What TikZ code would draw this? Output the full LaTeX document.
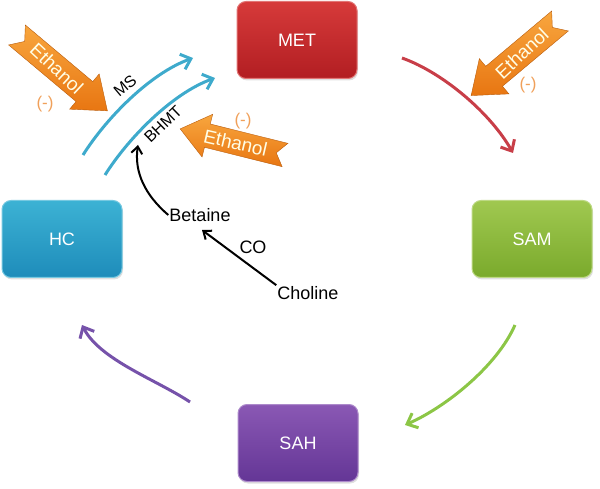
\documentclass[tikz,border=0pt]{standalone}
\usepackage{fontspec}
\setmainfont{Liberation Sans}
\usetikzlibrary{arrows.meta,shadows}
\definecolor{metTop}{RGB}{214,58,58}
\definecolor{metBot}{RGB}{178,30,34}
\definecolor{samTop}{RGB}{160,200,80}
\definecolor{samBot}{RGB}{122,170,44}
\definecolor{hcTop}{RGB}{60,178,212}
\definecolor{hcBot}{RGB}{30,140,186}
\definecolor{sahTop}{RGB}{138,88,180}
\definecolor{sahBot}{RGB}{100,54,150}
\definecolor{redArc}{RGB}{200,62,72}
\definecolor{greenArc}{RGB}{140,198,70}
\definecolor{purpleArc}{RGB}{118,82,170}
\definecolor{blueArc}{RGB}{62,170,204}
\definecolor{ethTop}{RGB}{248,166,62}
\definecolor{ethBot}{RGB}{232,118,18}
\definecolor{minusCol}{RGB}{240,160,90}
\begin{document}
\begin{tikzpicture}[x=1pt,y=-1pt,
  box/.style={rounded corners=9pt, minimum width=120pt, minimum height=77pt,
    font=\fontsize{18}{20}\selectfont, text=white, line width=1pt,
    drop shadow={opacity=0.25, shadow xshift=1pt, shadow yshift=-2pt}},
  cyc/.style={line width=3pt, -{Straight Barb[length=9pt,width=16pt]}},
  lbl/.style={font=\fontsize{18}{20}\selectfont, inner sep=1pt},
  enz/.style={font=\fontsize{16}{18}\selectfont, inner sep=1pt},
  ethshape/.style={top color=ethTop, bottom color=ethBot, draw=ethBot!80!black, line width=0.4pt},
  ethtext/.style={font=\fontsize{19}{20}\selectfont, text=white!90!yellow, inner sep=0pt},
  minus/.style={font=\fontsize{17}{18}\selectfont, text=minusCol, inner sep=0pt}
]
\useasboundingbox (0,0) rectangle (600,489);

% boxes
\node[box, top color=metTop, bottom color=metBot, draw=metTop!70!white] (met) at (297,40) {MET};
\node[box, top color=samTop, bottom color=samBot, draw=samTop!70!white] (sam) at (532,239) {SAM};
\node[box, top color=hcTop, bottom color=hcBot, draw=hcTop!70!white] (hc) at (62,239) {HC};
\node[box, top color=sahTop, bottom color=sahBot, draw=sahTop!70!white] (sah) at (298,443) {SAH};

% cycle arrows
\coordinate (r1) at (402,58);  \coordinate (r2) at (513,153);
\coordinate (g1) at (515,325); \coordinate (g2) at (405,425);
\coordinate (p1) at (190,402); \coordinate (p2) at (82,325);
\coordinate (ms1) at (83,155); \coordinate (ms2) at (193,58);
\coordinate (bh1) at (105,175); \coordinate (bh2) at (215,78);

\draw[cyc, redArc] (r1) .. controls (444,73) and (491,114) .. (r2);
\draw[cyc, greenArc] (g1) .. controls (497,366) and (446,407) .. (g2);
\draw[cyc, purpleArc] (p1) .. controls (157,380) and (100,360) .. (p2);
\draw[cyc, blueArc] (ms1) .. controls (107,117) and (151,73) .. (ms2);
\draw[cyc, blueArc] (bh1) .. controls (129,137) and (173,93) .. (bh2);

% labels
\node[enz, rotate=40] (ms) at (125,86) {MS};
\node[enz, rotate=44] (bhmt) at (163,124) {BHMT};
\node[lbl] (betaine) at (200,215) {Betaine};
\node[lbl] (choline) at (308,293) {Choline};
\node[lbl] (co) at (253,247) {CO};

\coordinate (bt) at (138,145);
\draw[line width=2pt, -{Straight Barb[length=7pt,width=11pt]}] (betaine.west) .. controls (145,195) and (134,172) .. (bt);
\draw[line width=2pt, -{Straight Barb[length=7pt,width=11pt]}] (choline.north west) -- (202,230);

% ethanol arrows
\begin{scope}[shift={(17,35)}, rotate=-40]
  \path[ethshape] (0,13) -- (88,13) -- (88,23) -- (118,0) -- (88,-23) -- (88,-13) -- (0,-13) -- (10,0) -- cycle;
  \node[ethtext, rotate=-43] (e1) at (52,0) {Ethanol};
\end{scope}
\begin{scope}[shift={(285,155)}, rotate=166]
  \path[ethshape] (0,12) -- (80,12) -- (80,22) -- (108,0) -- (80,-22) -- (80,-12) -- (0,-12) -- (9,0) -- cycle;
  \node[ethtext, rotate=-13] (e2) at (51,0) {Ethanol};
\end{scope}
\begin{scope}[shift={(560,21)}, rotate=220]
  \path[ethshape] (0,13) -- (86,13) -- (86,23) -- (116,0) -- (86,-23) -- (86,-13) -- (0,-13) -- (10,0) -- cycle;
  \node[ethtext, rotate=43] (e3) at (50,0) {Ethanol};
\end{scope}

\node[minus] (m1) at (45,104) {(-)};
\node[minus] (m2) at (243,121) {(-)};
\node[minus] (m3) at (528,85) {(-)};
\end{tikzpicture}
\end{document}
